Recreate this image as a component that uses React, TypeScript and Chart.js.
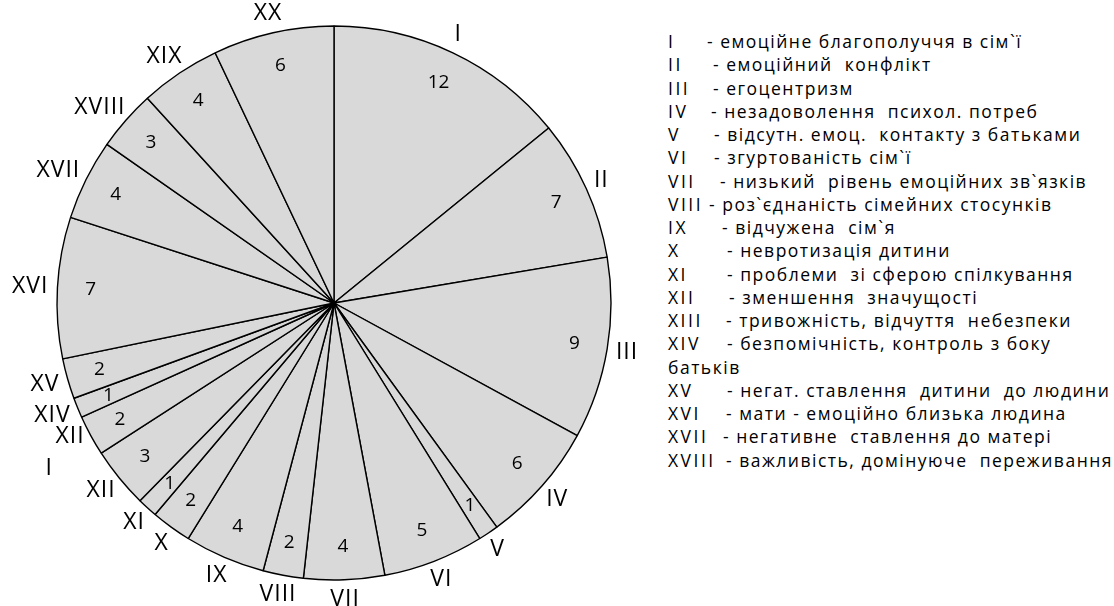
import React, { useEffect, useRef } from "react";
import { Chart, registerables } from "chart.js";

Chart.register(...registerables);

// ---- data ----
const categories = [
  "I", "II", "III", "IV", "V", "VI", "VII", "VIII", "IX", "X",
  "XI", "XII", "XIII", "XIV", "XV", "XVI", "XVII", "XVIII", "XIX", "XX",
];
const values = [12, 7, 9, 6, 1, 5, 4, 2, 4, 2, 1, 3, 2, 1, 2, 7, 4, 3, 4, 6];
// outer label text as shown (XIII is wrapped in the original)
const outerLabels = categories.map((c) => (c === "XIII" ? ["XII", "I"] : [c]));

const legendNumerals = [
  "I", "II", "III", "IV", "V", "VI", "VII", "VIII", "IX", "X",
  "XI", "XII", "XIII", "XIV", "", "XV", "XVI", "XVII", "XVIII",
];
const legendTexts = [
  "- емоційне благополуччя в сім`ї",
  "- емоційний  конфлікт",
  "- егоцентризм",
  "- незадоволення  психол. потреб",
  "- відсутн. емоц.  контакту з батьками",
  "- згуртованість сім`ї",
  "- низький  рівень емоційних зв`язків",
  "- роз`єднаність сімейних стосунків",
  "- відчужена  сім`я",
  "- невротизація дитини",
  "- проблеми  зі сферою спілкування",
  "- зменшення  значущості",
  "- тривожність, відчуття  небезпеки",
  "- безпомічність, контроль з боку",
  "батьків",
  "- негат. ставлення  дитини  до людини",
  "- мати - емоційно близька людина",
  "- негативне  ставлення до матері",
  "- важливість, домінуюче  переживання",
];
// layout (x of the dash for each legend line)
const legendTextX = [707, 713, 713, 711, 714, 714, 720, 709, 722, 727, 727, 729, 726, 727, 668, 727, 726, 723, 726];

const FONT = '"Open Sans", "DejaVu Sans", sans-serif';

const labelPlugin = {
  id: "sliceLabels",
  afterDatasetsDraw(chart: any) {
    const ctx = chart.ctx as CanvasRenderingContext2D;
    const meta = chart.getDatasetMeta(0);
    ctx.save();
    ctx.fillStyle = "#000";
    meta.data.forEach((arc: any, i: number) => {
      const p = arc.getProps(["x", "y", "startAngle", "endAngle", "outerRadius"], true);
      const mid = (p.startAngle + p.endAngle) / 2;
      const ux = Math.cos(mid);
      const uy = Math.sin(mid);
      // value inside
      ctx.font = `19px ${FONT}`;
      (ctx as any).letterSpacing = "0px";
      ctx.textAlign = "center";
      ctx.textBaseline = "middle";
      const rv = p.outerRadius * 0.88;
      ctx.fillText(String(values[i]), p.x + ux * rv, p.y + uy * rv);
      // outer numeral
      ctx.font = `23px ${FONT}`;
      (ctx as any).letterSpacing = "1px";
      const lines = outerLabels[i];
      const lh = 32;
      const widths = lines.map((l) => ctx.measureText(l).width);
      const w = Math.max(...widths);
      const h = lines.length * lh - 10;
      const ro = p.outerRadius + 9;
      const cx = p.x + ux * ro + (ux * w) / 2;
      const cy = p.y + uy * ro + (uy * h) / 2;
      ctx.textAlign = "left";
      lines.forEach((l, k) => {
        const lx = lines.length > 1 ? cx - w / 2 - (k > 0 ? 10 : 0) : cx - widths[k] / 2;
        ctx.fillText(l, lx, cy - ((lines.length - 1) * lh) / 2 + k * lh);
      });
    });
    ctx.restore();
  },
};

export default function App() {
  const ref = useRef<HTMLCanvasElement | null>(null);
  useEffect(() => {
    if (!ref.current) return;
    const chart = new Chart(ref.current, {
      type: "pie",
      data: {
        labels: categories,
        datasets: [
          {
            data: values,
            backgroundColor: "#d9d9d9",
            borderColor: "#000",
            borderWidth: 1.4,
          },
        ],
      },
      options: {
        animation: false,
        responsive: false,
        devicePixelRatio: 1,
        radius: 277,
        layout: { padding: 0 },
        plugins: {
          legend: { display: false },
          tooltip: { enabled: false },
        },
      } as any,
      plugins: [labelPlugin],
    });
    return () => chart.destroy();
  }, []);

  const rowStyle = (left: number, i: number, spacing: number): React.CSSProperties => ({
    position: "absolute",
    left,
    top: 42 + i * 23.25 - 13,
    height: 26,
    lineHeight: "26px",
    font: `17.5px ${FONT}`,
    letterSpacing: spacing,
    color: "#000",
    whiteSpace: "pre",
  });

  return (
    <div
      style={{
        position: "fixed",
        left: 0,
        top: 0,
        width: 1114,
        height: 606,
        background: "#fff",
        overflow: "hidden",
      }}
    >
      <canvas
        ref={ref}
        width={668}
        height={606}
        style={{ position: "absolute", left: 0, top: 0, width: 668, height: 606 }}
      />
      {legendTexts.map((t, i) => (
        <React.Fragment key={i}>
          {legendNumerals[i] && <div style={rowStyle(668, i, 2.5)}>{legendNumerals[i]}</div>}
          <div style={rowStyle(legendTextX[i], i, 1.5)}>{t}</div>
        </React.Fragment>
      ))}
    </div>
  );
}
